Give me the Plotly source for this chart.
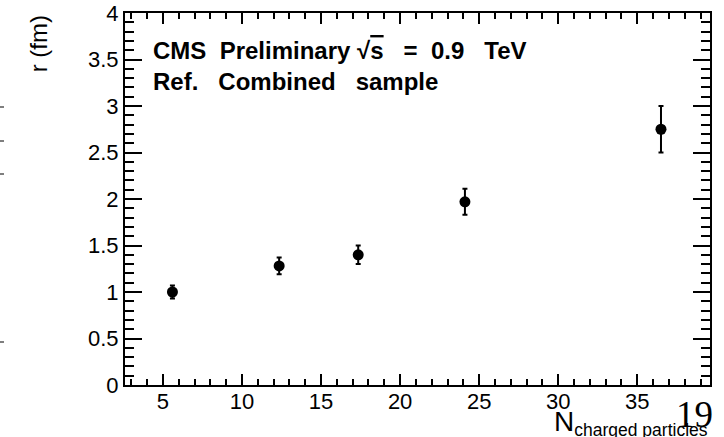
import plotly.graph_objects as go

# Radius vs. charged multiplicity
n_charged = [5.6, 12.35, 17.35, 24.1, 36.5]
radius_fm = [1.00, 1.28, 1.40, 1.97, 2.75]
radius_err = [0.07, 0.09, 0.10, 0.14, 0.25]

x_range = [2.6, 39.6]
y_range = [0, 4]

FONT = "Liberation Sans, Arial, Helvetica, sans-serif"
NB = "\u00a0"

fig = go.Figure()
fig.add_trace(go.Scatter(
    x=n_charged, y=radius_fm,
    mode="markers",
    marker=dict(color="black", size=11, symbol="circle"),
    error_y=dict(type="data", array=radius_err, visible=True,
                 color="black", thickness=2, width=2.5),
    showlegend=False,
))

tick_style = dict(ticks="inside", tickcolor="black", tickwidth=1.5)
axis_common = dict(
    showline=True, linecolor="black", linewidth=2,
    showgrid=False, zeroline=False, automargin=False,
    tickfont=dict(family=FONT, size=22, color="black"),
    **tick_style,
)

x_ticks = dict(range=x_range, tick0=0, dtick=5, ticklen=11,
               minor=dict(dtick=1, ticklen=6, **tick_style))
y_ticks = dict(range=y_range, tick0=0, dtick=0.5, ticklen=17,
               minor=dict(dtick=0.1, ticklen=9, **tick_style))

fig.update_layout(
    xaxis=dict(**x_ticks, **axis_common, ticklabelstandoff=-4),
    yaxis=dict(**y_ticks, **axis_common),
    # frame on top and right with the same tick marks, no labels
    xaxis2=dict(**x_ticks, **axis_common, overlaying="x", side="top",
                showticklabels=False, matches="x"),
    yaxis2=dict(**y_ticks, **axis_common, overlaying="y", side="right",
                showticklabels=False, matches="y"),
)
# invisible trace to bring up the top/right frame axes
fig.add_trace(go.Scatter(x=[None], y=[None], xaxis="x2", yaxis="y2",
                         showlegend=False, hoverinfo="skip"))

line1 = ("<b>CMS" + NB * 2 + "Preliminary" + NB + "\u221a<span style='text-decoration:overline'>s</span>"
         + NB * 3 + "=" + NB * 2 + "0.9" + NB * 3 + "TeV</b>")
line2 = "<b>Ref." + NB * 3 + "Combined" + NB * 3 + "sample</b>"

annotations = [
    # y-axis title, placed at the top end of the axis
    dict(text="r (fm)", textangle=-90, xref="paper", yref="paper",
         x=-0.148, y=0.917, xanchor="center", yanchor="middle", showarrow=False,
         font=dict(family=FONT, size=24, color="black")),
    # x-axis title, right-aligned at the end of the axis
    dict(text="<span style='font-size:28px'>N</span><sub>charged particles</sub>",
         xref="paper", yref="paper",
         x=1.0, y=-0.05, xanchor="right", yanchor="top", showarrow=False,
         font=dict(family=FONT, size=25, color="black")),
    # plot labels
    dict(text=line1, xref="paper", yref="paper", x=0.044, y=0.899,
         xanchor="left", yanchor="middle",
         showarrow=False, font=dict(family=FONT, size=24, color="black")),
    dict(text=line2, xref="paper", yref="paper", x=0.044, y=0.817,
         xanchor="left", yanchor="middle",
         showarrow=False, font=dict(family=FONT, size=24, color="black")),
    # page number
    dict(text="19", xref="paper", yref="paper", x=1.008, y=-0.02, xanchor="right", yanchor="top",
         showarrow=False, font=dict(family="Liberation Serif, Times New Roman, serif", size=37, color="black")),
]
fig.update_layout(annotations=annotations)

# small marks along the left edge of the page
for yp in [107, 141, 174, 342]:
    fig.add_shape(type="line", xref="paper", yref="paper",
                  x0=-125 / 585, x1=-121 / 585,
                  y0=(385 - yp) / 372, y1=(385 - yp) / 372,
                  line=dict(color="#555555", width=1.5))

fig.update_layout(
    width=724, height=437,
    margin=dict(l=125, r=14, t=13, b=52),
    plot_bgcolor="white", paper_bgcolor="white",
)

fig.write_html("out.html")
